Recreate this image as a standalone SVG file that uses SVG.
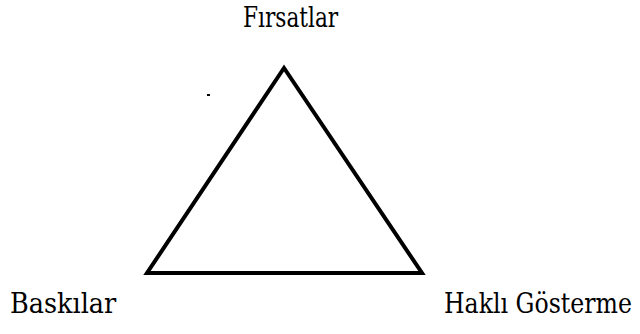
<svg xmlns="http://www.w3.org/2000/svg" width="640" height="334" viewBox="0 0 640 334">
<style>
.lbl{font-family:'DejaVu Serif',serif;font-size:28px;fill:#000}
.edge{fill:none;stroke:#000;stroke-width:4;stroke-linejoin:miter}
</style>
<rect width="640" height="334" fill="#fff"/>
<g id="connectors">
<polygon class="edge" points="284,68 147,273 422,273"/>
<rect x="207" y="94" width="3" height="2" fill="#000"/>
</g>
<g id="node-firsatlar"><text class="lbl" transform="translate(243,27) scale(0.85,1)" x="0" y="0" textLength="112" lengthAdjust="spacingAndGlyphs">Fırsatlar</text></g>
<g id="node-baskilar"><text class="lbl" transform="translate(10,313) scale(0.85,1)" x="0" y="0" textLength="125" lengthAdjust="spacingAndGlyphs">Baskılar</text></g>
<g id="node-hakli"><text class="lbl" transform="translate(444,313) scale(0.843,1)" x="0" y="0" textLength="223" lengthAdjust="spacingAndGlyphs">Haklı Gösterme</text></g>
</svg>
